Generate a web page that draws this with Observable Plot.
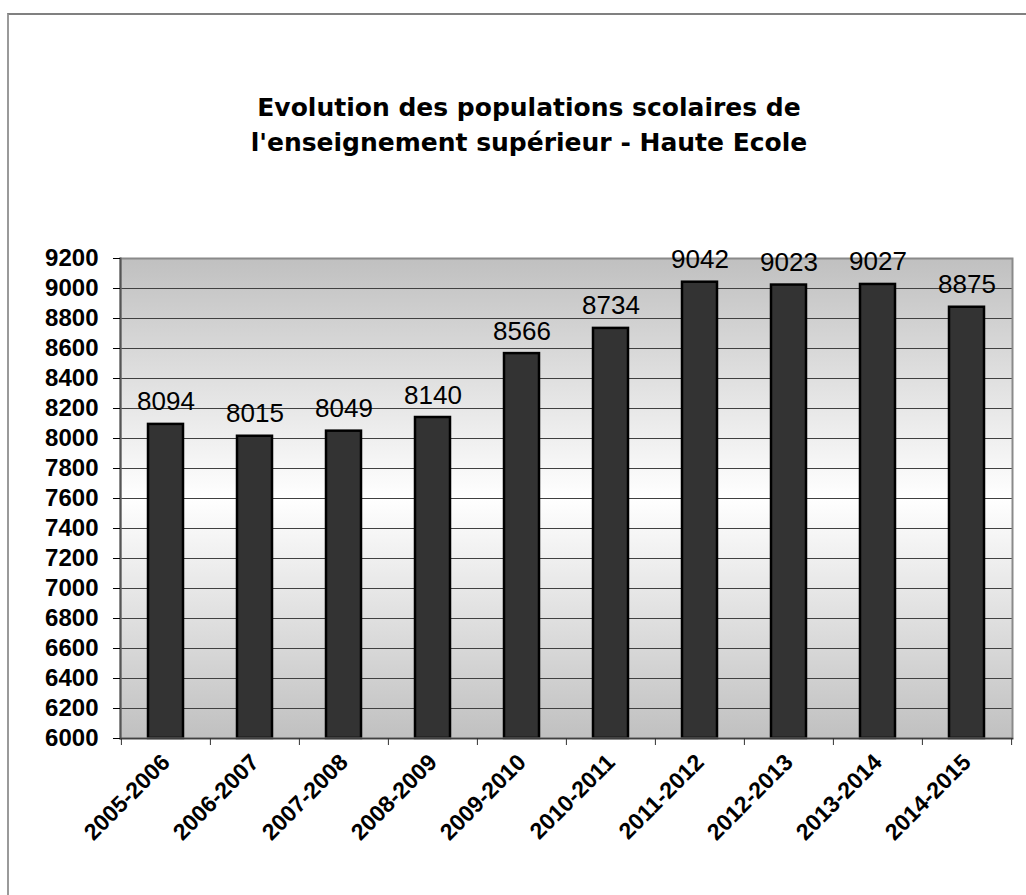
<!DOCTYPE html>
<html>
<head>
<meta charset="utf-8">
<script src="https://cdn.jsdelivr.net/npm/d3@7"></script>
<script src="https://cdn.jsdelivr.net/npm/@observablehq/plot@0.6"></script>
<style>
  html, body { margin: 0; padding: 0; background: #fff; overflow: hidden; width: 1026px; height: 895px; }
  #frame { position: absolute; left: 7px; top: 13px; width: 1100px; height: 1000px;
           border-left: 2px solid #9a9a9a; border-top: 2px solid #808080; pointer-events: none; }
  #title { box-sizing: border-box; width: 1026px; height: 180px; padding-top: 90px; padding-left: 32px;
           text-align: center; font-family: "DejaVu Sans", sans-serif; font-weight: bold; font-size: 25px;
           line-height: 35px; color: #000; }
  #chart { display: block; }
</style>
</head>
<body>
<div id="frame"></div>
<div id="title">Evolution des populations scolaires de<br>l'enseignement supérieur - Haute Ecole</div>
<div id="chart"></div>
<script>
const seasons = ["2005-2006", "2006-2007", "2007-2008", "2008-2009", "2009-2010",
                 "2010-2011", "2011-2012", "2012-2013", "2013-2014", "2014-2015"];
const students = [8094, 8015, 8049, 8140, 8566, 8734, 9042, 9023, 9027, 8875];
const yTicks = [6000, 6200, 6400, 6600, 6800, 7000, 7200, 7400, 7600, 7800,
                8000, 8200, 8400, 8600, 8800, 9000, 9200];
const yMin = 6000, yMax = 9200;

const data = seasons.map((s, i) => ({season: s, students: students[i]}));

const W = 1026, H = 715;
const mL = 120, mR = 14, mT = 78, mB = 157;
const bw = (W - mL - mR) / seasons.length;

const gradientDefs = () => {
  const svgNS = "http://www.w3.org/2000/svg";
  const defs = document.createElementNS(svgNS, "defs");
  const lg = document.createElementNS(svgNS, "linearGradient");
  lg.setAttribute("id", "bgGrad");
  lg.setAttribute("x1", "0"); lg.setAttribute("y1", "0");
  lg.setAttribute("x2", "0"); lg.setAttribute("y2", "1");
  [["0", "#c0c0c0"], ["0.5", "#ffffff"], ["1", "#c0c0c0"]].forEach(([o, c]) => {
    const st = document.createElementNS(svgNS, "stop");
    st.setAttribute("offset", o); st.setAttribute("stop-color", c);
    lg.appendChild(st);
  });
  defs.appendChild(lg);
  return defs;
};

const chart = Plot.plot({
  width: W, height: H,
  marginLeft: mL, marginRight: mR, marginTop: mT, marginBottom: mB,
  style: {fontFamily: "'Liberation Sans', Arial, sans-serif", background: "transparent", overflow: "visible"},
  x: {type: "band", domain: seasons, padding: 0},
  y: {domain: [yMin, yMax], nice: false},
  marks: [
    gradientDefs,
    Plot.frame({fill: "url(#bgGrad)", stroke: "none"}),
    Plot.gridY(yTicks, {stroke: "#404040", strokeOpacity: 1, strokeWidth: 1}),
    Plot.barY(data, {x: "season", y1: yMin, y2: "students", fill: "#333333",
                     stroke: "#000", strokeWidth: 2.5, insetLeft: 27, insetRight: 27}),
    Plot.frame({stroke: "#8a8a8a", strokeWidth: 2}),
    Plot.frame({anchor: "left", stroke: "#555", strokeWidth: 2}),
    Plot.frame({anchor: "bottom", stroke: "#404040", strokeWidth: 1.5}),
    Plot.axisY(yTicks, {tickSize: 7, tickPadding: 15, fontSize: 24, fontWeight: "bold",
                        tickFormat: d => String(d), stroke: "#000", fill: "#000", label: null}),
    Plot.axisX(seasons, {tickSize: 7, tickFormat: () => "", dx: -bw / 2, stroke: "#333", label: null}),
    Plot.axisX([seasons[seasons.length - 1]], {tickSize: 7, tickFormat: () => "", dx: bw / 2, stroke: "#333", label: null}),
    Plot.axisX(seasons, {tickSize: 0, tickPadding: 20, tickRotate: -45, fontSize: 23,
                         fontWeight: "bold", fill: "#000", label: null}),
    Plot.text(data, {x: "season", y: "students", text: d => String(d.students),
                     textAnchor: "middle", lineAnchor: "bottom", dy: -14, fontSize: 26, fill: "#000"})
  ]
});
document.getElementById("chart").appendChild(chart);
</script>
</body>
</html>
